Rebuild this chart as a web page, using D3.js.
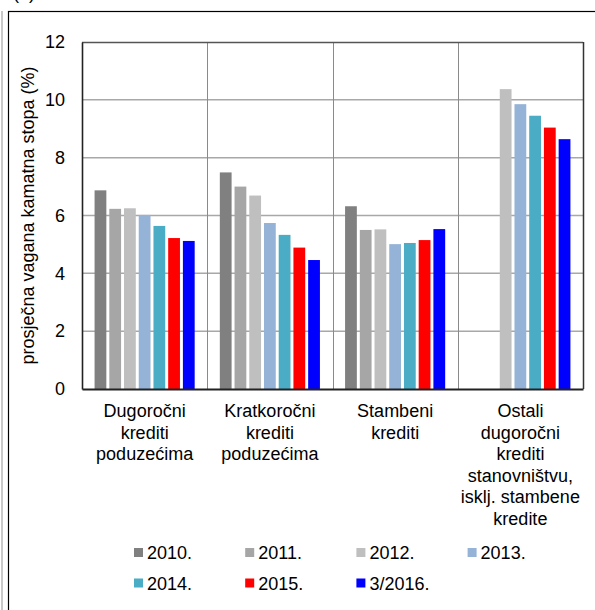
<!DOCTYPE html>
<html>
<head>
<meta charset="utf-8">
<script src="https://cdn.jsdelivr.net/npm/d3@7"></script>
<style>
  html, body { margin: 0; padding: 0; background: #fff; }
  svg { display: block; font-family: "Liberation Sans", Arial, sans-serif; }
</style>
</head>
<body>
<svg id="chart" width="595" height="610"></svg>
<script>
// Loan categories (each label split into its lines)
const categories = [
  ["Dugoročni", "krediti", "poduzećima"],
  ["Kratkoročni", "krediti", "poduzećima"],
  ["Stambeni", "krediti"],
  ["Ostali", "dugoročni", "krediti", "stanovništvu,", "isklj. stambene", "kredite"]
];

// Series names (years) and weighted average interest rates (%) per category
const seriesNames = ["2010.", "2011.", "2012.", "2013.", "2014.", "2015.", "3/2016."];
const rates2010 = [6.87, 7.49, 6.32, null];
const rates2011 = [6.23, 7.00, 5.50, null];
const rates2012 = [6.25, 6.69, 5.52, 10.37];
const rates2013 = [6.02, 5.74, 5.01, 9.85];
const rates2014 = [5.64, 5.33, 5.05, 9.45];
const rates2015 = [5.22, 4.89, 5.15, 9.04];
const rates2016 = [5.12, 4.46, 5.53, 8.64];
const seriesValues = [rates2010, rates2011, rates2012, rates2013, rates2014, rates2015, rates2016];
const seriesColors = ["#808080", "#a6a6a6", "#bfbfbf", "#95b3d7", "#4bacc6", "#ff0000", "#0000ff"];

const yTicks = [0, 2, 4, 6, 8, 10, 12];
const yTitle = "prosječna vagana kamatna stopa (%)";

const svg = d3.select("#chart");
const plot = { left: 82, right: 583, top: 42, bottom: 389 };
const fontSize = 18;

// Outer frame pieces
svg.append("line")
  .attr("x1", 2).attr("x2", 2).attr("y1", 11).attr("y2", 610)
  .attr("stroke", "#c8c8c8").attr("stroke-width", 2);
svg.append("rect")
  .attr("x", 8.5).attr("y", 11.5).attr("width", 620).attr("height", 620)
  .attr("fill", "none").attr("stroke", "#000").attr("stroke-width", 1.2);
svg.append("text")
  .attr("x", 13).attr("y", -1)
  .attr("font-size", fontSize).attr("fill", "#000")
  .text("(b)");

// Scales
const x0 = d3.scaleBand()
  .domain(d3.range(categories.length))
  .range([plot.left, plot.right])
  .paddingInner(0).paddingOuter(0);

const x1 = d3.scaleBand()
  .domain(d3.range(seriesNames.length))
  .range([0, x0.bandwidth()])
  .paddingInner(0.2).paddingOuter(0.854);

const y = d3.scaleLinear().domain([0, 12]).range([plot.bottom, plot.top]);

// Horizontal gridlines
svg.append("g")
  .selectAll("line")
  .data(yTicks.filter(t => t > 0 && t < 12))
  .join("line")
  .attr("x1", plot.left).attr("x2", plot.right)
  .attr("y1", d => y(d)).attr("y2", d => y(d))
  .attr("stroke", "#a8a8a8").attr("stroke-width", 1.5);

// Vertical separators between categories
svg.append("g")
  .selectAll("line")
  .data(d3.range(1, categories.length))
  .join("line")
  .attr("x1", d => Math.round(x0(d)) + 0.5).attr("x2", d => Math.round(x0(d)) + 0.5)
  .attr("y1", plot.top).attr("y2", plot.bottom)
  .attr("stroke", "#8a8a8a").attr("stroke-width", 1);

// Bars
const groups = svg.append("g")
  .selectAll("g")
  .data(seriesValues)
  .join("g")
  .attr("fill", (d, i) => seriesColors[i]);

groups.each(function (vals, si) {
  d3.select(this).selectAll("rect")
    .data(vals.map((v, ci) => ({ v, ci })).filter(d => d.v !== null))
    .join("rect")
    .attr("x", d => x0(d.ci) + x1(si))
    .attr("width", x1.bandwidth())
    .attr("y", d => y(d.v))
    .attr("height", d => y(0) - y(d.v));
});

// Plot border (top and right) and axes
svg.append("line")
  .attr("x1", plot.left).attr("x2", plot.right)
  .attr("y1", plot.top + 0.5).attr("y2", plot.top + 0.5)
  .attr("stroke", "#555").attr("stroke-width", 1.3);
svg.append("line")
  .attr("x1", plot.right + 0.5).attr("x2", plot.right + 0.5)
  .attr("y1", plot.top).attr("y2", plot.bottom)
  .attr("stroke", "#333").attr("stroke-width", 1.5);

const yAxis = svg.append("g")
  .attr("transform", `translate(${plot.left},0)`)
  .call(d3.axisLeft(y).tickValues(yTicks).tickSize(0).tickPadding(17).tickFormat(d3.format("d")));
yAxis.select(".domain").attr("stroke", "#222").attr("stroke-width", 1.6);
yAxis.selectAll("text")
  .attr("font-size", fontSize).attr("fill", "#000")
  .attr("font-family", "'Liberation Sans', Arial, sans-serif");

const xAxis = svg.append("g")
  .attr("transform", `translate(0,${plot.bottom})`)
  .call(d3.axisBottom(x0).tickSize(0).tickFormat(""));
xAxis.select(".domain").attr("stroke", "#222").attr("stroke-width", 1.8);

// Category labels (multi-line, centred under each group)
const catLabels = svg.append("g")
  .selectAll("text")
  .data(categories)
  .join("text")
  .attr("text-anchor", "middle")
  .attr("font-size", fontSize)
  .attr("fill", "#000")
  .attr("transform", (d, i) => `translate(${x0(i) + x0.bandwidth() / 2},417)`);
catLabels.selectAll("tspan")
  .data(d => d)
  .join("tspan")
  .attr("x", 0)
  .attr("y", (d, i) => i * 21.5)
  .text(d => d);

// Y axis title
svg.append("text")
  .attr("transform", `translate(34,${(plot.top + plot.bottom) / 2}) rotate(-90)`)
  .attr("text-anchor", "middle")
  .attr("font-size", fontSize)
  .attr("fill", "#000")
  .text(yTitle);

// Legend: two rows, four columns
const legendCols = 4;
const legend = svg.append("g")
  .selectAll("g")
  .data(seriesNames)
  .join("g")
  .attr("transform", (d, i) => `translate(${134 + (i % legendCols) * 111.2},${559 + Math.floor(i / legendCols) * 30.5})`);
legend.append("rect")
  .attr("x", 0).attr("y", -11).attr("width", 9).attr("height", 9)
  .attr("fill", (d, i) => seriesColors[i]);
legend.append("text")
  .attr("x", 13).attr("y", 0)
  .attr("font-size", fontSize).attr("fill", "#000")
  .text(d => d);
</script>
</body>
</html>
